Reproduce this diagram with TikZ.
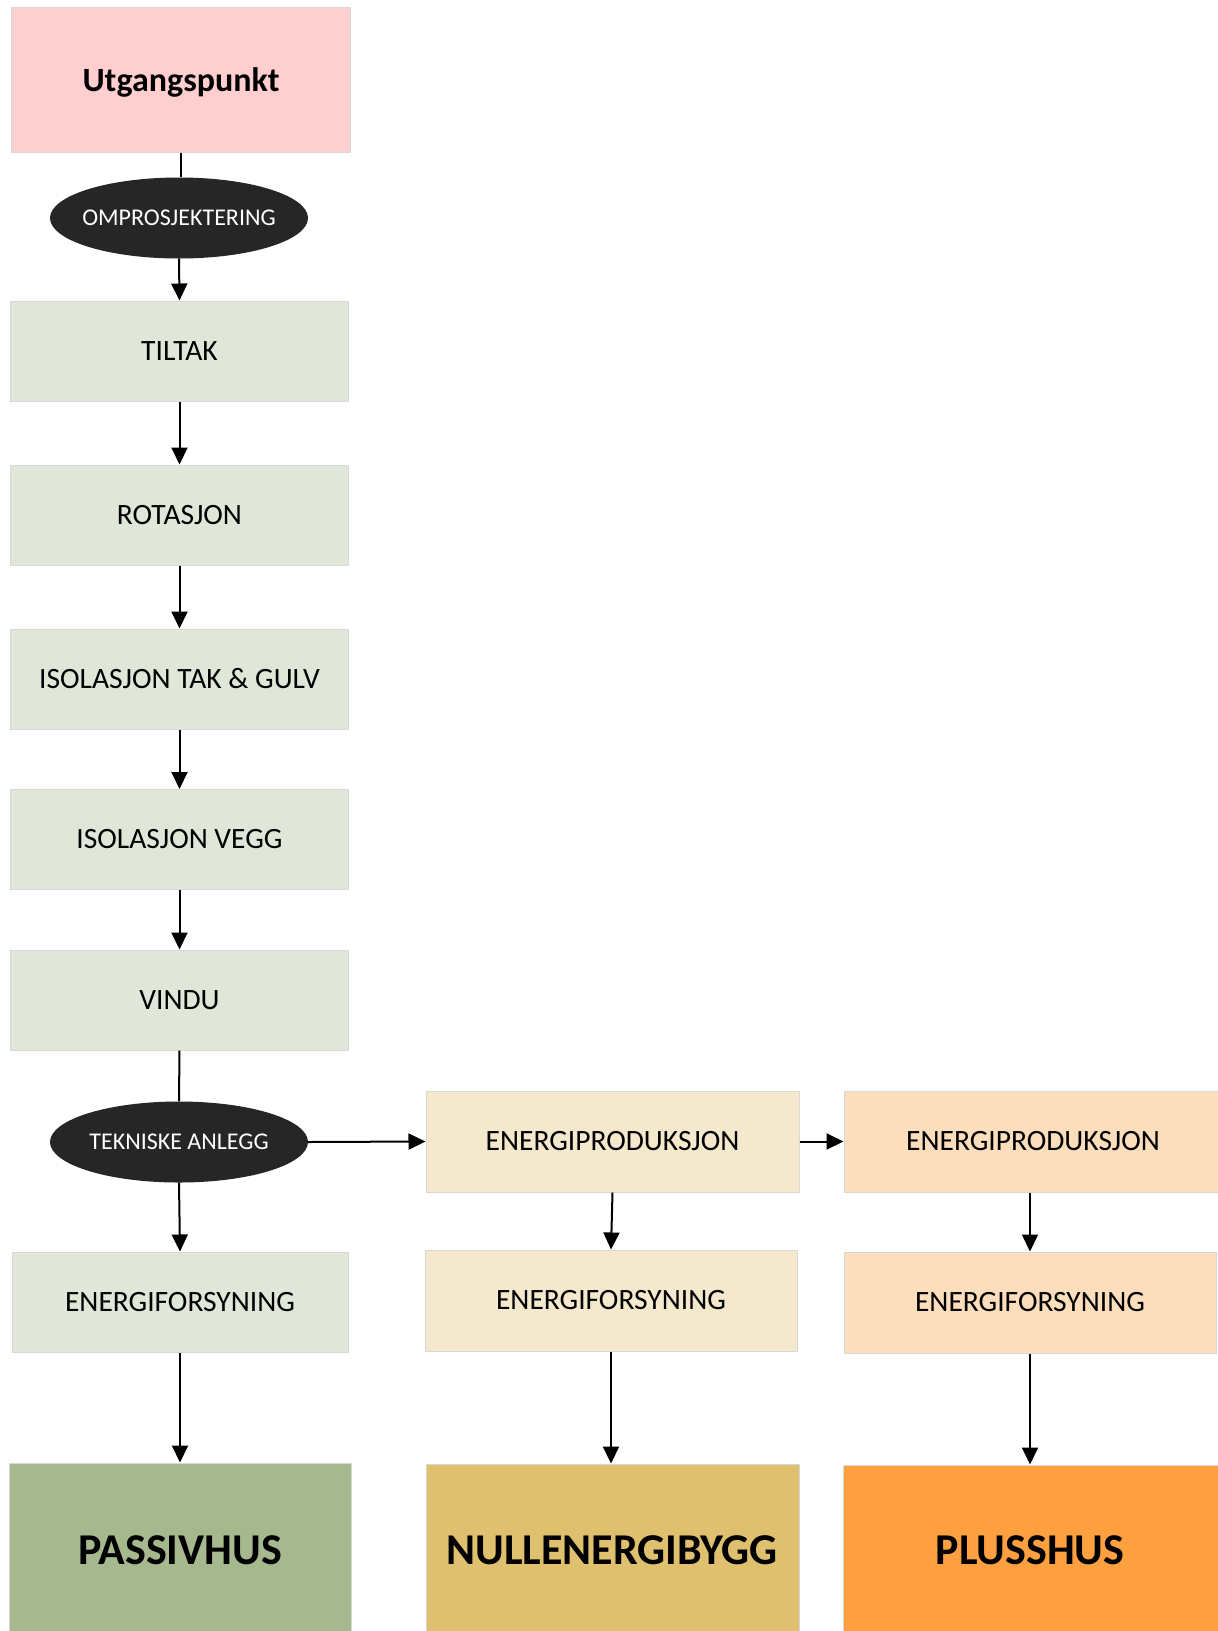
\documentclass[tikz,border=0pt]{standalone}
\usepackage{fontspec}
\setmainfont{Carlito}
\usetikzlibrary{shapes.geometric,arrows.meta}
\definecolor{cpink}{RGB}{255,207,207}
\definecolor{cgreen}{RGB}{224,230,216}
\definecolor{cbeige}{RGB}{244,232,205}
\definecolor{cpeach}{RGB}{252,222,188}
\definecolor{cpassiv}{RGB}{166,185,142}
\definecolor{cnull}{RGB}{223,192,110}
\definecolor{cplus}{RGB}{255,160,64}
\definecolor{cdark}{RGB}{38,38,38}
\definecolor{cborder}{RGB}{216,216,216}
\tikzset{
  box/.style={rectangle, draw=cborder, line width=1pt, inner sep=0pt, align=center, font=\fontsize{29.5}{34}\selectfont},
  gbox/.style={box, fill=cgreen, minimum width=338, minimum height=100},
  bbox/.style={box, fill=cbeige, minimum width=373, minimum height=101},
  pbox/.style={box, fill=cpeach, minimum width=374, minimum height=101},
  bigbox/.style={box, font=\fontsize{44}{50}\selectfont\bfseries},
  oval/.style={ellipse, fill=cdark, draw=none, inner sep=0pt, minimum width=258, minimum height=81},
  ovaltext/.style={text=white, font=\fontsize{24}{28}\selectfont},
  arr/.style={line width=2pt, -{Triangle[length=17pt,width=16pt]}},
  ln/.style={line width=2pt}
}
\begin{document}
\begin{tikzpicture}[x=1pt,y=-1pt]
\useasboundingbox (0,0) rectangle (1218,1631);
\fill[white] (0,0) rectangle (1218,1631);
\begin{scope}
\clip (0,0) rectangle (1218,1631);
\node[box, fill=cpink, minimum width=339, minimum height=145] (utg) at (181,80) {};
\node[font=\fontsize{34}{38}\selectfont\bfseries] (tutg) at (181,82) {Utgangspunkt};
\node[oval, label={[ovaltext]center:OMPROSJEKTERING}] (omp) at (179,218) {};
\node[gbox] (tiltak) at (179.5,351) {TILTAK};
\node[gbox] (rot) at (179.5,515) {ROTASJON};
\node[gbox] (isotak) at (179.5,679) {ISOLASJON TAK \& GULV};
\node[gbox] (isovegg) at (179.5,839.5) {ISOLASJON VEGG};
\node[gbox] (vindu) at (179.5,1000) {VINDU};
\node[oval, label={[ovaltext]center:TEKNISKE ANLEGG}] (tek) at (179,1142) {};
\node[gbox, minimum width=336] (ef1) at (180,1302) {ENERGIFORSYNING};
\node[bbox] (ep2) at (612.5,1141.5) {ENERGIPRODUKSJON};
\node[bbox, minimum width=372] (ef2) at (611,1300.5) {ENERGIFORSYNING};
\node[pbox, minimum width=378] (ep3) at (1033,1141.5) {ENERGIPRODUKSJON};
\node[pbox, minimum width=372] (ef3) at (1030,1302.5) {ENERGIFORSYNING};
\node[bigbox, fill=cpassiv, minimum width=342, minimum height=177] (passiv) at (180,1551.5) {};
\node[bigbox, fill=cnull, minimum width=373, minimum height=176] (null) at (612.5,1552) {};
\node[bigbox, fill=cplus, minimum width=379, minimum height=175] (plus) at (1032.5,1552.5) {};
\node[font=\fontsize{44}{50}\selectfont\bfseries] (tpassiv) at (180,1550) {PASSIVHUS};
\node[font=\fontsize{44}{50}\selectfont\bfseries] (tnull) at (612,1550) {NULLENERGIBYGG};
\node[font=\fontsize{44}{50}\selectfont\bfseries] (tplus) at (1030,1550) {PLUSSHUS};
\end{scope}
\draw[ln] (utg.south) -- (utg.south |- omp.north);
\draw[arr] (omp.south) -- (tiltak.north);
\draw[arr] (tiltak) -- (rot);
\draw[arr] (rot) -- (isotak);
\draw[arr] (isotak) -- (isovegg);
\draw[arr] (isovegg) -- (vindu);
\draw[ln] (vindu.south) -- (tek.north);
\draw[arr] (tek.south) -- (ef1.north);
\draw[arr] (ef1.south) -- (ef1.south |- passiv.north);
\draw[arr] (tek.east) -- (ep2.west);
\draw[arr] (ep2.east) -- (ep3.west);
\draw[arr] (ep2.south) -- (ef2.north);
\draw[arr] (ef2.south) -- (ef2.south |- null.north);
\draw[arr] (ep3.south -| ef3.north) -- (ef3.north);
\draw[arr] (ef3.south) -- (ef3.south |- plus.north);
\end{tikzpicture}
\end{document}
